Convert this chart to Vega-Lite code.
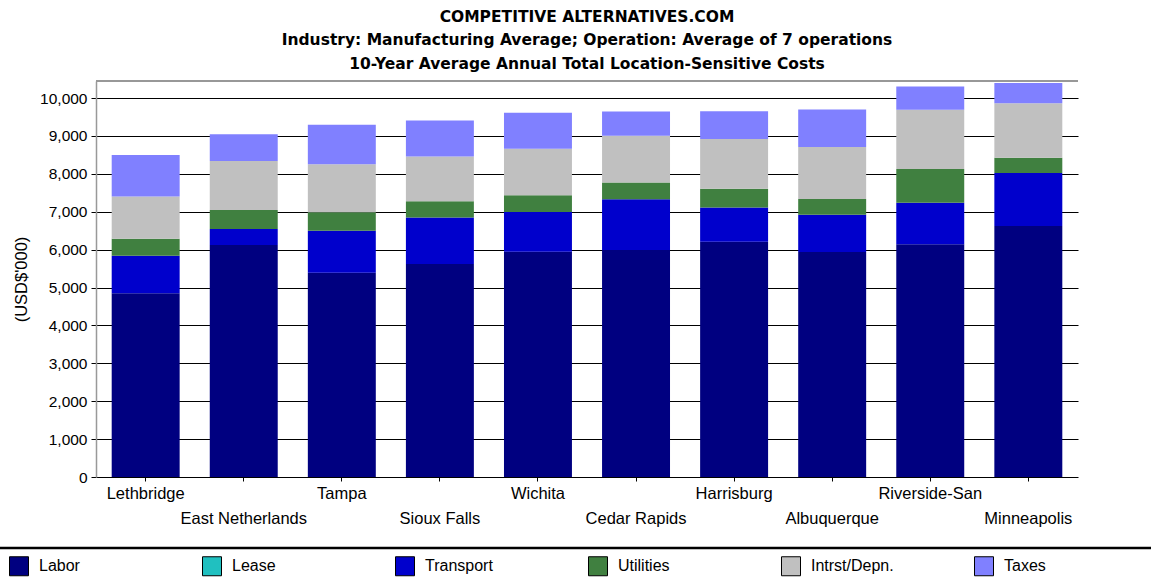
{
  "$schema": "https://vega.github.io/schema/vega-lite/v6.json",
  "autosize": {"type": "none"},
  "width": 982,
  "height": 396,
  "padding": {"left": 96, "top": 81, "right": 73, "bottom": 100},
  "background": "white",
  "config": {
    "view": {"stroke": null},
    "font": "Liberation Sans",
    "axisY": {
      "title": "(USD$'000)",
      "titleFont": "Liberation Sans",
      "titleFontSize": 16.5,
      "titleFontWeight": "normal",
      "titleColor": "black",
      "titlePadding": 10,
      "labelFont": "Liberation Sans",
      "labelFontSize": 15.5,
      "labelColor": "black",
      "labelPadding": 4,
      "tickSize": 5,
      "tickColor": "black",
      "grid": true,
      "gridColor": "black",
      "gridOpacity": 1,
      "gridWidth": 1,
      "domainColor": "#999999",
      "domainWidth": 1.5
    }
  },
  "title": {
    "text": ["COMPETITIVE ALTERNATIVES.COM", "Industry: Manufacturing Average; Operation: Average of 7 operations", "10-Year Average Annual Total Location-Sensitive Costs"],
    "anchor": "middle",
    "frame": "group",
    "font": "DejaVu Sans",
    "fontSize": 15.5,
    "fontWeight": "bold",
    "color": "black",
    "lineHeight": 23.5,
    "offset": 8
  },
  "data": {
    "values": [
      {"city": "Lethbridge", "cost": "Labor", "value": 4850},
      {"city": "Lethbridge", "cost": "Lease", "value": 0},
      {"city": "Lethbridge", "cost": "Transport", "value": 990},
      {"city": "Lethbridge", "cost": "Utilities", "value": 450},
      {"city": "Lethbridge", "cost": "Intrst/Depn.", "value": 1110},
      {"city": "Lethbridge", "cost": "Taxes", "value": 1100},
      {"city": "East Netherlands", "cost": "Labor", "value": 6120},
      {"city": "East Netherlands", "cost": "Lease", "value": 0},
      {"city": "East Netherlands", "cost": "Transport", "value": 425},
      {"city": "East Netherlands", "cost": "Utilities", "value": 500},
      {"city": "East Netherlands", "cost": "Intrst/Depn.", "value": 1295},
      {"city": "East Netherlands", "cost": "Taxes", "value": 705},
      {"city": "Tampa", "cost": "Labor", "value": 5390},
      {"city": "Tampa", "cost": "Lease", "value": 0},
      {"city": "Tampa", "cost": "Transport", "value": 1110},
      {"city": "Tampa", "cost": "Utilities", "value": 485},
      {"city": "Tampa", "cost": "Intrst/Depn.", "value": 1270},
      {"city": "Tampa", "cost": "Taxes", "value": 1040},
      {"city": "Sioux Falls", "cost": "Labor", "value": 5620},
      {"city": "Sioux Falls", "cost": "Lease", "value": 0},
      {"city": "Sioux Falls", "cost": "Transport", "value": 1225},
      {"city": "Sioux Falls", "cost": "Utilities", "value": 435},
      {"city": "Sioux Falls", "cost": "Intrst/Depn.", "value": 1180},
      {"city": "Sioux Falls", "cost": "Taxes", "value": 950},
      {"city": "Wichita", "cost": "Labor", "value": 5945},
      {"city": "Wichita", "cost": "Lease", "value": 0},
      {"city": "Wichita", "cost": "Transport", "value": 1050},
      {"city": "Wichita", "cost": "Utilities", "value": 440},
      {"city": "Wichita", "cost": "Intrst/Depn.", "value": 1230},
      {"city": "Wichita", "cost": "Taxes", "value": 945},
      {"city": "Cedar Rapids", "cost": "Labor", "value": 5990},
      {"city": "Cedar Rapids", "cost": "Lease", "value": 0},
      {"city": "Cedar Rapids", "cost": "Transport", "value": 1340},
      {"city": "Cedar Rapids", "cost": "Utilities", "value": 440},
      {"city": "Cedar Rapids", "cost": "Intrst/Depn.", "value": 1235},
      {"city": "Cedar Rapids", "cost": "Taxes", "value": 640},
      {"city": "Harrisburg", "cost": "Labor", "value": 6210},
      {"city": "Harrisburg", "cost": "Lease", "value": 0},
      {"city": "Harrisburg", "cost": "Transport", "value": 900},
      {"city": "Harrisburg", "cost": "Utilities", "value": 495},
      {"city": "Harrisburg", "cost": "Intrst/Depn.", "value": 1315},
      {"city": "Harrisburg", "cost": "Taxes", "value": 730},
      {"city": "Albuquerque", "cost": "Labor", "value": 5940},
      {"city": "Albuquerque", "cost": "Lease", "value": 0},
      {"city": "Albuquerque", "cost": "Transport", "value": 980},
      {"city": "Albuquerque", "cost": "Utilities", "value": 415},
      {"city": "Albuquerque", "cost": "Intrst/Depn.", "value": 1375},
      {"city": "Albuquerque", "cost": "Taxes", "value": 985},
      {"city": "Riverside-San", "cost": "Labor", "value": 6140},
      {"city": "Riverside-San", "cost": "Lease", "value": 0},
      {"city": "Riverside-San", "cost": "Transport", "value": 1100},
      {"city": "Riverside-San", "cost": "Utilities", "value": 890},
      {"city": "Riverside-San", "cost": "Intrst/Depn.", "value": 1560},
      {"city": "Riverside-San", "cost": "Taxes", "value": 615},
      {"city": "Minneapolis", "cost": "Labor", "value": 6625},
      {"city": "Minneapolis", "cost": "Lease", "value": 0},
      {"city": "Minneapolis", "cost": "Transport", "value": 1395},
      {"city": "Minneapolis", "cost": "Utilities", "value": 405},
      {"city": "Minneapolis", "cost": "Intrst/Depn.", "value": 1435},
      {"city": "Minneapolis", "cost": "Taxes", "value": 540}
    ]
  },
  "layer": [
    {
      "transform": [
        {"window": [{"op": "row_number", "as": "stackRank"}], "groupby": ["city"]}
      ],
      "mark": {"type": "bar"},
      "encoding": {
        "x": {
          "field": "city",
          "type": "nominal",
          "sort": null,
          "scale": {"paddingInner": 0.307, "paddingOuter": 0.16},
          "axis": {
            "title": null,
            "labelAngle": 0,
            "labelFont": "Liberation Sans",
            "labelFontSize": 16.5,
            "labelColor": "black",
            "labelBaseline": "top",
            "labelPadding": {"condition": {"test": "indexof(['East Netherlands','Sioux Falls','Cedar Rapids','Albuquerque','Minneapolis'], datum.value) >= 0", "value": 29}, "value": 4},
            "tickSize": 4,
            "tickColor": "black",
            "domain": false,
            "grid": false
          }
        },
        "y": {
          "field": "value",
          "type": "quantitative",
          "stack": "zero",
          "scale": {"domain": [0, 10450], "nice": false},
          "axis": {
            "title": "(USD$'000)",
            "values": [0, 1000, 2000, 3000, 4000, 5000, 6000, 7000, 8000, 9000, 10000],
            "format": ",d"
          }
        },
        "order": {"field": "stackRank", "type": "quantitative", "sort": "ascending"},
        "color": {
          "field": "cost",
          "type": "nominal",
          "sort": ["Labor", "Lease", "Transport", "Utilities", "Intrst/Depn.", "Taxes"],
          "scale": {
            "domain": ["Labor", "Lease", "Transport", "Utilities", "Intrst/Depn.", "Taxes"],
            "range": ["#000080", "#20C0C0", "#0000CC", "#408040", "#C0C0C0", "#8080FF"]
          },
          "legend": {
            "title": " ",
            "titleOrient": "right",
            "titlePadding": 140,
            "orient": "none",
            "legendX": -110,
            "legendY": 467,
            "direction": "horizontal",
            "columns": 6,
            "gridAlign": "all",
            "columnPadding": 65,
            "padding": 8,
            "symbolOffset": 15,
            "symbolType": "square",
            "symbolSize": 361,
            "symbolStrokeColor": "black",
            "symbolStrokeWidth": 1,
            "symbolOpacity": 1,
            "labelFont": "Liberation Sans",
            "labelFontSize": 16,
            "labelColor": "black",
            "labelOffset": 10,
            "strokeColor": "black",
            "fillColor": "white",
            "encode": {"legend": {"update": {"strokeWidth": {"value": 2.5}}}}
          }
        }
      }
    },
    {
      "mark": {"type": "rule", "color": "#999999", "strokeWidth": 1.5},
      "encoding": {
        "y": {
          "datum": 10450,
          "type": "quantitative",
          "axis": {
            "title": "(USD$'000)",
            "values": [0, 1000, 2000, 3000, 4000, 5000, 6000, 7000, 8000, 9000, 10000],
            "format": ",d"
          }
        }
      }
    }
  ]
}
